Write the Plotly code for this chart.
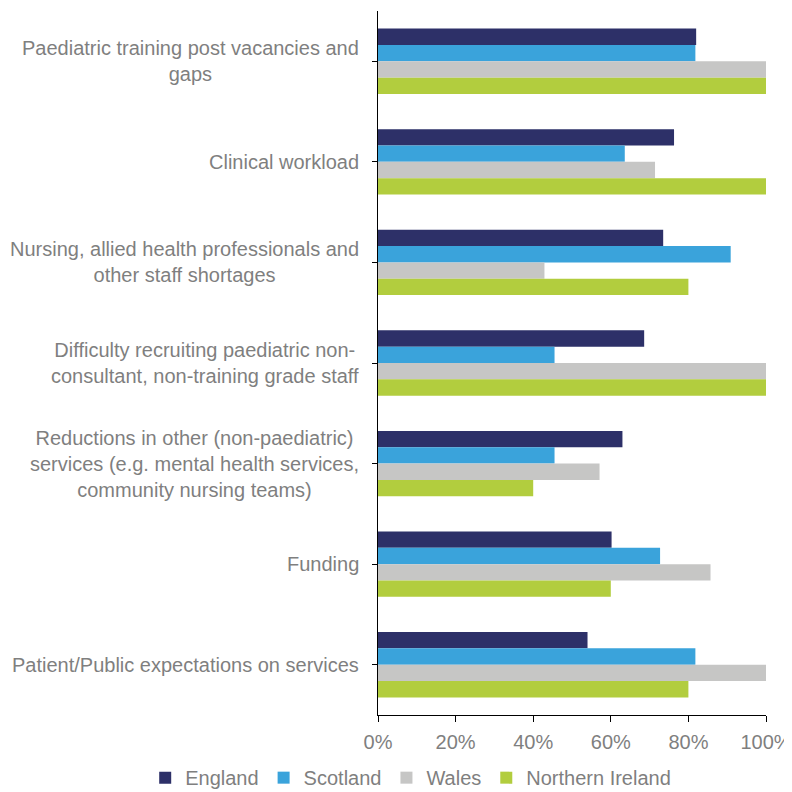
"""
Pressures on paediatric services by nation — grouped horizontal bar chart.
"""

import plotly.graph_objects as go

CATEGORIES = [
    "Paediatric training post vacancies and<br>gaps",
    "Clinical workload",
    "Nursing, allied health professionals and<br>other staff shortages",
    "Difficulty recruiting paediatric non-<br>consultant, non-training grade staff",
    "Reductions in other (non-paediatric)<br>services (e.g. mental health services,<br>community nursing teams)",
    "Funding",
    "Patient/Public expectations on services",
]

ENGLAND  = [0.82, 0.763, 0.735, 0.686, 0.63, 0.602, 0.54]
SCOTLAND = [0.818, 0.636, 0.909, 0.455, 0.455, 0.727, 0.818]
WALES    = [1.0, 0.714, 0.429, 1.0, 0.571, 0.857, 1.0]
N_IRELAND = [1.0, 1.0, 0.8, 1.0, 0.4, 0.6, 0.8]

SERIES = [
    ("England", ENGLAND, "#2D3068"),
    ("Scotland", SCOTLAND, "#3AA3DB"),
    ("Wales", WALES, "#C6C6C5"),
    ("Northern Ireland", N_IRELAND, "#B2CD3E"),
]

X_TICKS = [0, 0.2, 0.4, 0.6, 0.8, 1.0]
X_TICK_TEXT = ["0%", "20%", "40%", "60%", "80%", "100%"]

GREY_TEXT = "#7F7F7F"
FONT = "Liberation Sans, Arial, sans-serif"

fig = go.Figure()
for name, vals, color in SERIES:
    fig.add_trace(go.Bar(
        y=CATEGORIES,
        x=vals,
        name=name,
        orientation="h",
        marker_color=color,
        marker_line_width=0,
    ))

# category labels: centred multi-line text, right-aligned to the axis
for cat in CATEGORIES:
    fig.add_annotation(
        x=0, xref="paper", xanchor="right", xshift=-17,
        y=cat, yref="y", yanchor="middle",
        text=cat, showarrow=False, align="center",
        font=dict(family=FONT, size=20, color=GREY_TEXT),
    )

# page body has an 8px margin, so the figure is 8px smaller than the window
fig.update_layout(
    width=784,
    height=784,
    barmode="group",
    bargap=0.35,
    bargroupgap=0,
    plot_bgcolor="white",
    paper_bgcolor="white",
    font=dict(family=FONT, size=20, color=GREY_TEXT),
    margin=dict(l=370, r=26, t=3, b=77, autoexpand=False),
    legend=dict(
        orientation="h",
        x=-0.60, xanchor="left",
        y=-0.089, yanchor="middle",
        font=dict(family=FONT, size=20, color=GREY_TEXT),
        itemwidth=30,
        traceorder="normal",
    ),
    xaxis=dict(
        range=[0, 1],
        tickvals=X_TICKS,
        ticktext=X_TICK_TEXT,
        showgrid=False,
        zeroline=False,
        showline=True,
        linecolor="#000000",
        linewidth=1,
        ticks="outside",
        ticklen=6,
        tickcolor="#000000",
        ticklabelstandoff=3,
        tickfont=dict(family=FONT, size=20, color=GREY_TEXT),
        automargin=False,
    ),
    yaxis=dict(
        autorange="reversed",
        showgrid=False,
        zeroline=False,
        showline=True,
        linecolor="#000000",
        linewidth=1,
        ticks="outside",
        ticklen=5,
        tickcolor="#000000",
        showticklabels=False,
        automargin=False,
    ),
)

fig.write_html("out.html")
